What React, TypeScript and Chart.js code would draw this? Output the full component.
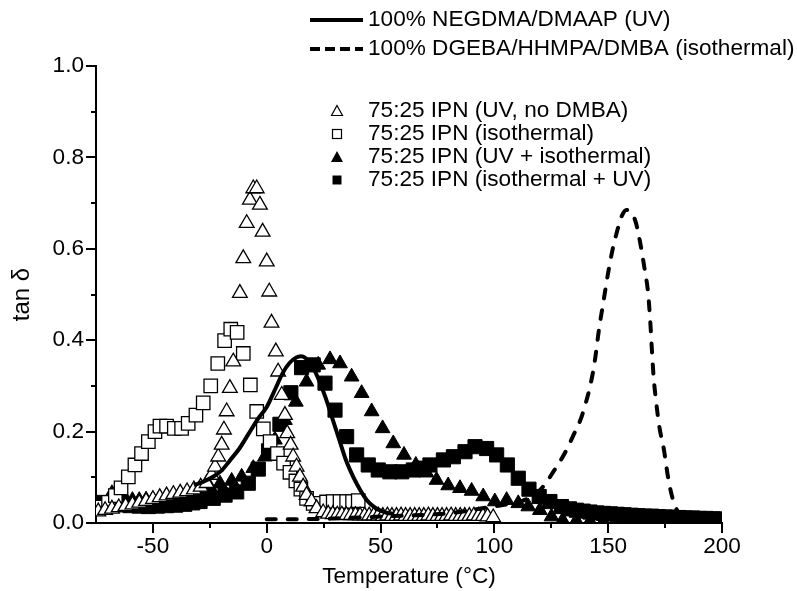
import React, { useEffect, useRef } from "react";
import { Chart, registerables } from "chart.js";
Chart.register(...registerables);

const FONT = '"Liberation Sans", Arial, Helvetica, sans-serif';
const FONT_SIZE = 22.6;

// Axis settings and tick values
const X_MIN = -75;
const X_MAX = 200;
const Y_MIN = 0;
const Y_MAX = 1;
const xMajorTicks = [-50, 0, 50, 100, 150, 200];
const xMinorTicks = [-25, 25, 75, 125, 175];
const yMajorTicks = [0, 0.2, 0.4, 0.6, 0.8, 1.0];
const yMinorTicks = [0.1, 0.3, 0.5, 0.7, 0.9];

const xTitle = "Temperature (°C)";
const yTitle = "tan δ";

const legendLabels = [
  "100% NEGDMA/DMAAP (UV)",
  "100% DGEBA/HHMPA/DMBA (isothermal)",
  "75:25 IPN (UV, no DMBA)",
  "75:25 IPN (isothermal)",
  "75:25 IPN (UV + isothermal)",
  "75:25 IPN (isothermal + UV)",
];

// [temperature, tan delta]
const negdma: [number, number][] = [
  [-32, 0.083], [-28, 0.09], [-24, 0.1], [-20, 0.114], [-16, 0.138], [-12, 0.163],
  [-8, 0.195], [-4, 0.227], [0, 0.254], [4, 0.296], [7, 0.328], [10, 0.35],
  [13, 0.362], [15, 0.365], [17, 0.361], [20, 0.343], [23, 0.312], [26, 0.272],
  [29, 0.226], [32, 0.18], [35, 0.135], [38, 0.101], [41, 0.073], [44, 0.05],
  [47, 0.036], [50, 0.027], [53, 0.022], [56, 0.02],
];

const dgeba: [number, number][] = [
  [0, 0.008], [5, 0.008], [10, 0.008], [15, 0.008], [20, 0.009], [25, 0.009],
  [30, 0.01], [40, 0.012], [50, 0.014], [60, 0.016], [70, 0.018], [80, 0.021],
  [86, 0.025], [92, 0.03], [97, 0.034], [102, 0.038], [107, 0.042], [112, 0.048],
  [116, 0.057], [120, 0.072], [123, 0.09], [126, 0.113], [129, 0.136], [132, 0.163],
  [135, 0.195], [138, 0.228], [140, 0.26], [142, 0.298], [144, 0.35], [146, 0.425],
  [148, 0.487], [150, 0.548], [152, 0.6], [154, 0.64], [156, 0.672], [158, 0.685],
  [160, 0.68], [162, 0.66], [164, 0.615], [166, 0.556], [167.5, 0.505], [168.5, 0.44],
  [169.3, 0.37], [170, 0.317], [171, 0.268], [172.5, 0.21], [174.5, 0.16], [176.3, 0.1],
  [178.5, 0.05], [181, 0.022], [185, 0.012], [190, 0.01], [195, 0.008], [200, 0.008],
];

const ipnUvNoDmba: [number, number][] = [
  [-74, 0.025], [-71, 0.028], [-68, 0.031], [-65, 0.034], [-62, 0.037], [-59, 0.04],
  [-56, 0.044], [-53, 0.048], [-50, 0.052], [-47, 0.056], [-44, 0.06], [-41, 0.063],
  [-38, 0.066], [-35, 0.069], [-32, 0.073], [-29, 0.079], [-26.4, 0.087], [-24.2, 0.105],
  [-22.7, 0.123], [-21.3, 0.145], [-19.8, 0.171], [-18.8, 0.204], [-17.6, 0.244],
  [-16.2, 0.295], [-14.7, 0.353], [-11.8, 0.503], [-10.3, 0.579], [-8.8, 0.656],
  [-7.4, 0.707], [-5.9, 0.732], [-4.4, 0.732], [-3, 0.696], [-1.8, 0.637], [0, 0.572],
  [1.1, 0.506], [2.1, 0.438], [4, 0.375], [5, 0.331], [6.6, 0.28], [8, 0.236],
  [9, 0.196], [10.5, 0.171], [11.6, 0.145], [13.1, 0.123], [14.6, 0.101], [16, 0.079],
  [17.5, 0.061], [19.7, 0.047], [21.9, 0.032], [24.8, 0.023], [27, 0.02], [29, 0.019],
  [31, 0.018], [33, 0.018], [35, 0.017], [37, 0.017], [39, 0.017], [41, 0.016],
  [43, 0.016], [45, 0.016], [47, 0.016], [49, 0.016], [51, 0.015], [53, 0.016],
  [55, 0.015], [57, 0.015], [59, 0.016], [61, 0.015], [63, 0.015], [65, 0.015],
  [67, 0.015], [69, 0.015], [71, 0.016], [73, 0.015], [75, 0.015], [77, 0.015],
  [79, 0.015], [81, 0.016], [83, 0.015], [85, 0.015], [87, 0.015], [89, 0.015],
  [91, 0.016], [93, 0.015], [95, 0.015], [97, 0.014], [99.5, 0.012],
];

const ipnIsothermal: [number, number][] = [
  [-73, 0.035], [-69.5, 0.045], [-66.5, 0.06], [-64, 0.077], [-60.8, 0.101], [-57.9, 0.127],
  [-55, 0.152], [-52, 0.178], [-49.1, 0.2], [-46.9, 0.212], [-44, 0.212], [-40.6, 0.207],
  [-37.4, 0.207], [-34.5, 0.218], [-31.1, 0.236], [-27.9, 0.263], [-24.6, 0.3],
  [-21.5, 0.349], [-18.5, 0.399], [-15.8, 0.424], [-13, 0.417], [-10.3, 0.371],
  [-7.2, 0.302], [-4.4, 0.244], [-1.5, 0.206], [1.5, 0.178], [4.7, 0.152], [7.4, 0.131],
  [10.2, 0.111], [12.8, 0.092], [15, 0.074], [17.5, 0.054], [20.4, 0.043], [23.3, 0.043],
  [26.3, 0.046], [29.2, 0.047], [32.2, 0.047], [35.1, 0.047], [37.7, 0.047], [40.2, 0.049],
];

const ipnUvIso: [number, number][] = [
  [-68, 0.065], [-65, 0.056], [-62, 0.052], [-59, 0.05], [-56, 0.05], [-53, 0.051],
  [-50, 0.052], [-47, 0.054], [-44, 0.056], [-41, 0.058], [-38, 0.06], [-35, 0.062],
  [-32, 0.066], [-29, 0.07], [-25, 0.079], [-20.5, 0.086], [-15.4, 0.092], [-11, 0.101],
  [-5.9, 0.12], [-0.8, 0.145], [3.6, 0.182], [8, 0.225], [12.8, 0.265], [17.5, 0.309],
  [22.6, 0.346], [27.8, 0.358], [32.2, 0.349], [37.3, 0.32], [41.7, 0.284], [46.1, 0.244],
  [50.9, 0.207], [55.6, 0.174], [60.3, 0.149], [65.5, 0.127], [70.2, 0.11], [74.6, 0.094],
  [79.7, 0.082], [84.9, 0.076], [90, 0.07], [95.1, 0.058], [100.2, 0.047], [105.4, 0.05],
  [110.5, 0.043], [114.9, 0.036], [120, 0.028], [125.1, 0.014], [130, 0.006], [136, 0.005],
  [142, 0.004], [148, 0.004],
];

const ipnIsoUv: [number, number][] = [
  [-72, 0.045], [-68, 0.042], [-64, 0.04], [-60, 0.038], [-56, 0.037], [-52, 0.036],
  [-48, 0.037], [-44, 0.038], [-40, 0.039], [-36, 0.041], [-32.5, 0.044], [-29.3, 0.047],
  [-23.5, 0.054], [-18.3, 0.061], [-13.2, 0.068], [-8.1, 0.087], [-3.7, 0.118], [0.8, 0.158],
  [5.8, 0.216], [10.6, 0.285], [15.3, 0.34], [20.4, 0.346], [25.6, 0.306], [30, 0.247],
  [35.1, 0.189], [39.5, 0.149], [44.6, 0.127], [49, 0.116], [54.1, 0.112], [59.3, 0.112],
  [64.4, 0.116], [68, 0.12], [71.7, 0.127], [77.6, 0.138], [82, 0.145], [87.1, 0.156],
  [91.5, 0.167], [96.6, 0.163], [101, 0.149], [105.7, 0.127], [110.5, 0.098], [115.2, 0.074],
  [119.7, 0.058], [124.4, 0.047], [129.5, 0.036], [133, 0.031], [136, 0.028], [139, 0.026],
  [142, 0.024], [145, 0.022], [148, 0.021], [151, 0.02], [154, 0.019], [157, 0.018],
  [160, 0.017], [163, 0.016], [166, 0.015], [169, 0.015], [172, 0.014], [175, 0.013],
  [178, 0.013], [181, 0.012], [184, 0.011], [187, 0.011], [190, 0.01], [193, 0.01],
  [196, 0.009], [199, 0.009],
];

const toPts = (arr: [number, number][]) => arr.map(([x, y]) => ({ x, y }));

const ticksPlugin = {
  id: "originTicks",
  afterDraw(chart: any) {
    const { ctx, scales } = chart;
    const xs = scales.x;
    const ys = scales.y;
    const area = chart.chartArea;
    ctx.save();
    ctx.strokeStyle = "#000";
    ctx.lineWidth = 2;
    ctx.lineCap = "butt";
    ctx.beginPath();
    const xl = area.left;
    const yb = area.bottom;
    xMajorTicks.forEach((v) => {
      const px = Math.round(xs.getPixelForValue(v));
      ctx.moveTo(px, yb);
      ctx.lineTo(px, yb + 10);
    });
    xMinorTicks.forEach((v) => {
      const px = Math.round(xs.getPixelForValue(v));
      ctx.moveTo(px, yb);
      ctx.lineTo(px, yb + 5);
    });
    yMajorTicks.forEach((v) => {
      const py = Math.round(ys.getPixelForValue(v));
      ctx.moveTo(xl, py);
      ctx.lineTo(xl - 10, py);
    });
    yMinorTicks.forEach((v) => {
      const py = Math.round(ys.getPixelForValue(v));
      ctx.moveTo(xl, py);
      ctx.lineTo(xl - 5, py);
    });
    ctx.stroke();
    ctx.restore();
  },
};

const legendPlugin = {
  id: "originLegend",
  afterDraw(chart: any) {
    const ctx = chart.ctx;
    const lineX0 = 310;
    const lineX1 = 363;
    const textX = 368;
    const markX = 337;
    const rows = [20, 49, 111, 134, 157, 180];
    ctx.save();
    ctx.fillStyle = "#000";
    ctx.strokeStyle = "#000";
    ctx.font = `${FONT_SIZE}px ${FONT}`;
    ctx.textBaseline = "middle";
    ctx.textAlign = "left";
    legendLabels.forEach((t, i) => ctx.fillText(t, textX, rows[i]));

    ctx.lineWidth = 4;
    ctx.beginPath();
    ctx.moveTo(lineX0, rows[0]);
    ctx.lineTo(lineX1, rows[0]);
    ctx.stroke();
    ctx.setLineDash([10, 5]);
    ctx.beginPath();
    ctx.moveTo(lineX0, rows[1]);
    ctx.lineTo(lineX1, rows[1]);
    ctx.stroke();
    ctx.setLineDash([]);

    ctx.lineWidth = 1.2;
    // open triangle
    let y = rows[2];
    ctx.beginPath();
    ctx.moveTo(markX, y - 5.5);
    ctx.lineTo(markX + 5.5, y + 4.5);
    ctx.lineTo(markX - 5.5, y + 4.5);
    ctx.closePath();
    ctx.stroke();
    // open square
    y = rows[3];
    ctx.strokeRect(markX - 4.5, y - 4.5, 9, 9);
    // filled triangle
    y = rows[4];
    ctx.beginPath();
    ctx.moveTo(markX, y - 6);
    ctx.lineTo(markX + 6, y + 5);
    ctx.lineTo(markX - 6, y + 5);
    ctx.closePath();
    ctx.fill();
    // filled square
    y = rows[5];
    ctx.fillRect(markX - 4.5, y - 4.5, 9, 9);
    ctx.restore();
  },
};

export default function App() {
  const ref = useRef<HTMLCanvasElement>(null);
  useEffect(() => {
    document.body.style.margin = "0";
    const lineBase = {
      showLine: true,
      pointRadius: 0,
      pointHoverRadius: 0,
      borderColor: "#000",
      backgroundColor: "#000",
      borderWidth: 4,
      cubicInterpolationMode: "monotone" as const,
      fill: false,
    };
    const chart = new Chart(ref.current!, {
      type: "scatter",
      data: {
        datasets: [
          { ...lineBase, label: legendLabels[0], data: toPts(negdma) },
          {
            ...lineBase,
            label: legendLabels[1],
            data: toPts(dgeba),
            borderDash: [9, 12],
            borderCapStyle: "round",
          },
          {
            label: legendLabels[2],
            data: toPts(ipnUvNoDmba),
            pointStyle: "triangle",
            pointRadius: 8.5,
            backgroundColor: "#fff",
            borderColor: "#000",
            borderWidth: 1.3,
          },
          {
            label: legendLabels[3],
            data: toPts(ipnIsothermal),
            pointStyle: "rect",
            pointRadius: 9.5,
            backgroundColor: "#fff",
            borderColor: "#000",
            borderWidth: 1.3,
          },
          {
            label: legendLabels[4],
            data: toPts(ipnUvIso),
            pointStyle: "triangle",
            pointRadius: 8.5,
            backgroundColor: "#000",
            borderColor: "#000",
            borderWidth: 1,
          },
          {
            label: legendLabels[5],
            data: toPts(ipnIsoUv),
            pointStyle: "rect",
            pointRadius: 10,
            backgroundColor: "#000",
            borderColor: "#000",
            borderWidth: 1,
          },
        ] as any,
      },
      options: {
        animation: false,
        responsive: false,
        maintainAspectRatio: false,
        events: [],
        layout: { padding: { left: 0, top: 66, right: 75, bottom: 0 } },
        plugins: {
          legend: { display: false },
          tooltip: { enabled: false },
        },
        scales: {
          x: {
            type: "linear",
            min: X_MIN,
            max: X_MAX,
            grid: { display: false, drawTicks: false },
            border: { display: true, color: "#000", width: 2 },
            ticks: {
              stepSize: 25,
              autoSkip: false,
              maxRotation: 0,
              padding: 10,
              color: "#000",
              font: { family: FONT, size: FONT_SIZE },
              callback: (v: any) => (xMajorTicks.includes(Number(v)) ? String(v) : ""),
            },
            title: {
              display: true,
              text: xTitle,
              color: "#000",
              font: { family: FONT, size: FONT_SIZE },
              padding: { top: 0, bottom: 1 },
            },
            afterFit: (s: any) => {
              s.height = 68;
              s.paddingLeft = 0;
              s.paddingRight = 0;
            },
          },
          y: {
            type: "linear",
            min: Y_MIN,
            max: Y_MAX,
            grid: { display: false, drawTicks: false },
            border: { display: true, color: "#000", width: 2 },
            ticks: {
              stepSize: 0.1,
              autoSkip: false,
              padding: 12,
              color: "#000",
              font: { family: FONT, size: FONT_SIZE },
              callback: (v: any) => {
                const r = Math.round(Number(v) * 10);
                return r % 2 === 0 ? (r / 10).toFixed(1) : "";
              },
            },
            title: {
              display: true,
              text: yTitle,
              color: "#000",
              font: { family: FONT, size: 24 },
              padding: { top: 8, bottom: 0 },
            },
            afterFit: (s: any) => {
              s.width = 96;
              s.paddingTop = 0;
              s.paddingBottom = 0;
            },
          },
        },
      },
      plugins: [ticksPlugin, legendPlugin],
    });
    return () => chart.destroy();
  }, []);
  return (
    <div style={{ width: 797, height: 591, background: "#fff" }}>
      <canvas ref={ref} width={797} height={591} style={{ display: "block" }} />
    </div>
  );
}
